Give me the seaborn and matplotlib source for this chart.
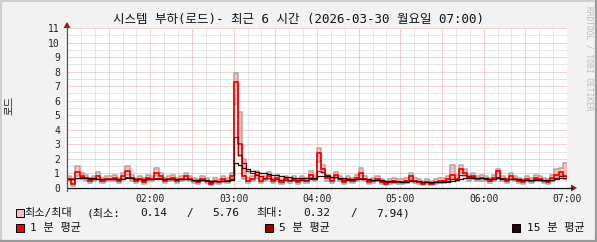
import numpy as np
import pandas as pd
import matplotlib
matplotlib.use("Agg")
import matplotlib.pyplot as plt
import matplotlib.dates as mdates
from matplotlib.patches import Rectangle, Polygon
from matplotlib.lines import Line2D
import seaborn as sns

# ---------------- data (3-minute steps, 01:00 .. 07:00) ----------------
times = pd.date_range("2026-03-30 01:00", "2026-03-30 07:00", freq="3min")

avg_1min = [0.6,0.3,1.1,0.8,0.7,0.5,0.6,0.8,0.5,0.6,0.6,0.7,0.5,0.8,1.2,0.7,0.5,0.6,0.4,0.7,
            0.6,1.0,0.8,0.5,0.6,0.7,0.5,0.6,0.8,0.6,0.5,0.4,0.6,0.5,0.3,0.5,0.4,0.6,0.5,0.8,
            7.3,3.0,0.8,0.5,0.6,0.9,0.5,0.6,0.8,0.5,0.7,0.4,0.6,0.5,0.6,0.4,0.6,0.5,0.9,0.6,
            2.4,1.3,0.7,0.5,0.9,0.6,0.4,0.6,0.5,0.7,1.0,0.6,0.4,0.5,0.6,0.4,0.3,0.4,0.5,0.4,
            0.4,0.5,0.8,0.5,0.4,0.3,0.4,0.3,0.4,0.5,0.5,0.6,0.9,0.6,1.3,1.0,0.7,0.8,0.6,0.7,
            0.6,0.5,0.7,1.2,0.6,0.5,0.8,0.6,0.5,0.4,0.6,0.5,0.7,0.6,0.5,0.4,0.7,0.9,1.1,0.8,
            0.8]

max_1min = [0.8,0.7,1.5,1.0,0.9,0.7,0.8,1.1,0.7,0.8,0.8,0.9,0.7,1.0,1.5,0.9,0.7,0.8,0.7,0.9,
            0.8,1.4,1.0,0.7,0.8,0.9,0.7,0.8,1.0,0.8,0.7,0.6,0.8,0.7,0.5,0.7,0.6,0.8,0.7,1.0,
            7.94,5.2,2.0,0.7,0.8,1.2,0.7,0.8,1.1,0.7,0.9,0.6,0.8,0.7,0.8,0.6,0.8,0.7,1.2,0.8,
            2.75,1.6,0.9,0.7,1.1,0.8,0.6,0.8,0.7,0.9,1.4,0.8,0.6,0.7,0.8,0.6,0.5,0.6,0.7,0.6,
            0.6,0.7,1.0,0.7,0.6,0.5,0.6,0.5,0.6,0.7,0.7,0.8,1.6,0.9,1.6,1.3,0.9,1.0,0.8,0.9,
            0.8,0.7,0.9,1.3,0.8,0.7,1.0,0.8,0.7,0.6,0.8,0.7,0.9,0.8,0.7,0.6,0.9,1.3,1.4,1.7,
            1.7]

min_1min = [0.45,0.14,0.8,0.6,0.5,0.35,0.45,0.6,0.35,0.45,0.45,0.5,0.35,0.6,0.9,0.5,0.35,0.45,0.3,0.5,
            0.45,0.8,0.6,0.35,0.45,0.5,0.35,0.45,0.6,0.45,0.35,0.3,0.45,0.35,0.2,0.35,0.3,0.45,0.35,0.6,
            5.76,2.2,0.6,0.35,0.45,0.7,0.35,0.45,0.6,0.35,0.5,0.3,0.45,0.35,0.45,0.3,0.45,0.35,0.7,0.45,
            1.8,1.0,0.5,0.35,0.7,0.45,0.3,0.45,0.35,0.5,0.8,0.45,0.3,0.35,0.45,0.3,0.2,0.3,0.35,0.3,
            0.3,0.35,0.6,0.35,0.3,0.2,0.3,0.2,0.3,0.35,0.35,0.45,0.7,0.45,1.0,0.8,0.5,0.6,0.45,0.5,
            0.45,0.35,0.5,1.0,0.45,0.35,0.6,0.45,0.35,0.3,0.45,0.35,0.5,0.45,0.35,0.3,0.5,0.7,0.9,0.6,
            0.6]

avg_5min = [0.65,0.6,0.7,0.75,0.7,0.65,0.6,0.65,0.6,0.6,0.6,0.62,0.6,0.65,0.75,0.7,0.62,0.6,0.55,0.6,
            0.62,0.72,0.7,0.62,0.6,0.62,0.58,0.6,0.65,0.6,0.55,0.5,0.52,0.5,0.42,0.45,0.45,0.5,0.52,0.62,
            3.5,2.3,1.7,1.2,1.0,0.9,0.8,0.72,0.72,0.65,0.65,0.58,0.58,0.55,0.55,0.52,0.55,0.55,0.65,0.65,
            1.2,1.1,0.9,0.75,0.75,0.65,0.58,0.58,0.55,0.6,0.72,0.65,0.55,0.52,0.52,0.48,0.42,0.42,0.42,0.4,
            0.4,0.45,0.55,0.5,0.45,0.4,0.38,0.36,0.38,0.42,0.45,0.5,0.65,0.65,0.9,0.9,0.8,0.75,0.7,0.68,
            0.65,0.6,0.62,0.75,0.68,0.6,0.65,0.62,0.58,0.52,0.55,0.55,0.6,0.6,0.55,0.5,0.58,0.68,0.8,0.8,
            0.8]

avg_15min = [0.65,0.65,0.68,0.7,0.7,0.68,0.66,0.65,0.64,0.63,0.62,0.62,0.62,0.63,0.66,0.66,0.64,0.62,0.6,0.6,
             0.6,0.63,0.64,0.63,0.62,0.62,0.6,0.6,0.61,0.6,0.58,0.56,0.55,0.53,0.5,0.49,0.48,0.48,0.5,0.55,
             1.7,1.55,1.4,1.3,1.2,1.12,1.05,1.0,0.95,0.9,0.86,0.82,0.78,0.75,0.72,0.7,0.68,0.68,0.68,0.68,
             0.8,0.82,0.8,0.76,0.74,0.7,0.66,0.64,0.62,0.62,0.64,0.63,0.6,0.58,0.56,0.54,0.5,0.48,0.46,0.45,
             0.44,0.44,0.46,0.46,0.45,0.43,0.42,0.4,0.4,0.41,0.42,0.44,0.5,0.53,0.62,0.68,0.7,0.7,0.69,0.68,
             0.66,0.64,0.63,0.66,0.65,0.63,0.63,0.62,0.6,0.58,0.57,0.57,0.58,0.58,0.57,0.56,0.57,0.6,0.66,0.7,
             0.7]

x_tick_labels = ["02:00", "03:00", "04:00", "05:00", "06:00", "07:00"]

title = "시스템 부하(로드)- 최근 6 시간 (2026-03-30 월요일 07:00)"
y_label = "로드"
side_text = "RRDTOOL / TOBI OETIKER"
legend_minmax = "최소/최대"
legend_stats = ["(최소:", "0.14", "/", "5.76", "최대:", "0.32", "/", "7.94)"]
legend_series = ["1 분 평균", "5 분 평균", "15 분 평균"]

c_band = "#FFBDBD"
c_band_edge = "#A8A8A8"
c_1 = "#FF0000"
c_5 = "#A00000"
c_15 = "#2A0000"

df = pd.DataFrame({"time": times, "avg1": avg_1min, "max1": max_1min, "min1": min_1min,
                   "avg5": avg_5min, "avg15": avg_15min})

# ---------------- figure ----------------
sns.set_style("white")
FONT = ["DejaVu Sans Mono", "Noto Sans CJK KR"]
plt.rcParams["font.family"] = FONT

W, H = 597, 242
fig = plt.figure(figsize=(W / 100, H / 100), dpi=100, facecolor="#F2F2F2")

L, R, T, B = 67, 567, 28, 188
ax = fig.add_axes([L / W, 1 - B / H, (R - L) / W, (B - T) / H])
ax.set_facecolor("white")

t0 = pd.Timestamp("2026-03-30 01:00")
t1 = pd.Timestamp("2026-03-30 07:00")
ax.set_xlim(t0, t1)
ax.set_ylim(0, 11)

# grid
ax.xaxis.set_major_locator(mdates.MinuteLocator(byminute=[0, 30]))
ax.xaxis.set_minor_locator(mdates.MinuteLocator(byminute=[10, 20, 40, 50]))
def fmt(x, pos):
    d = mdates.num2date(x)
    lab = d.strftime("%H:%M")
    return lab if (d.minute == 0 and lab in x_tick_labels) else ""
ax.xaxis.set_major_formatter(plt.FuncFormatter(fmt))
ax.yaxis.set_major_locator(plt.MultipleLocator(1))
ax.yaxis.set_minor_locator(plt.MultipleLocator(0.5))

ax.grid(which="minor", color="#CFCFCF", linewidth=0.72, linestyle=(0, (1, 1)))
ax.grid(which="major", color="#F2A0A0", linewidth=0.72, linestyle=(0, (1, 1)))
ax.set_axisbelow(True)

# min / max band
ax.fill_between(df["time"], df["min1"], df["max1"], step="post", color=c_band, linewidth=0, zorder=2)
sns.lineplot(data=df, x="time", y="max1", ax=ax, color=c_band_edge, linewidth=1.1, drawstyle="steps-post", zorder=3)
sns.lineplot(data=df, x="time", y="min1", ax=ax, color=c_band_edge, linewidth=1.1, drawstyle="steps-post", zorder=3)
sns.lineplot(data=df, x="time", y="avg1", ax=ax, color=c_1, linewidth=1.3, drawstyle="steps-post", zorder=4)
sns.lineplot(data=df, x="time", y="avg5", ax=ax, color=c_5, linewidth=0.9, drawstyle="steps-post", zorder=5)
sns.lineplot(data=df, x="time", y="avg15", ax=ax, color=c_15, linewidth=0.9, drawstyle="steps-post", zorder=6)

ax.set_xlabel("")
ax.set_ylabel("")
for s in ax.spines.values():
    s.set_visible(False)

ax.tick_params(axis="both", which="major", length=2, width=0.7, color="#444444",
               labelsize=7, labelcolor="#222222")
ax.tick_params(axis="x", which="major", pad=2.5)
ax.tick_params(axis="y", which="major", pad=3)
ax.tick_params(axis="both", which="minor", length=0)
for lab in ax.get_xticklabels() + ax.get_yticklabels():
    lab.set_family(FONT)

# axis lines with arrows (figure pixel coords)
def px(x, y):
    return (x / W, 1 - y / H)
fig.add_artist(Line2D([px(L, 0)[0], px(572, 0)[0]], [px(0, B)[1]] * 2, color="#111111", linewidth=0.9))
fig.add_artist(Line2D([px(L, 0)[0]] * 2, [px(0, B + 3)[1], px(0, 26)[1]], color="#555555", linewidth=0.9))
fig.add_artist(Polygon([px(571, B - 3.5), px(577, B), px(571, B + 3.5)], closed=True,
                       facecolor="#8B1A1A", edgecolor="none"))
fig.add_artist(Polygon([px(L - 3.5, 28), px(L, 22), px(L + 3.5, 28)], closed=True,
                       facecolor="#8B1A1A", edgecolor="none"))

# title and labels
fig.text(0.5, 1 - 19 / H, title, ha="center", va="center", fontsize=9, color="#111111", family=FONT)
fig.text(10 / W, 1 - 105 / H, y_label, ha="center", va="center", rotation=90, fontsize=7.5,
         color="#222222", family=FONT)
fig.text(589 / W, 1 - 58 / H, side_text, ha="center", va="center", rotation=270, fontsize=5.7,
         color="#BBBBBB", family=FONT)

# legend
def square(x, y, color):
    fig.add_artist(Rectangle(px(x, y + 4), 8 / W, 8 / H, facecolor=color, edgecolor="black",
                             linewidth=0.7))

y1, y2 = 213, 228
square(16, y1, c_band)
fig.text(24 / W, 1 - y1 / H, legend_minmax, ha="left", va="center", fontsize=8, family=FONT, color="#111111")
stat_x = [87, 140, 186, 212, 256, 303, 350, 376]
for xx, s in zip(stat_x, legend_stats):
    fig.text(xx / W, 1 - y1 / H, s, ha="left", va="center", fontsize=8, family=FONT, color="#111111")

square(16, y2, c_1)
fig.text(30 / W, 1 - y2 / H, legend_series[0], ha="left", va="center", fontsize=8, family=FONT, color="#111111")
square(265, y2, c_5)
fig.text(279 / W, 1 - y2 / H, legend_series[1], ha="left", va="center", fontsize=8, family=FONT, color="#111111")
square(512, y2, c_15)
fig.text(527 / W, 1 - y2 / H, legend_series[2], ha="left", va="center", fontsize=8, family=FONT, color="#111111")

# 3D-ish frame
fig.add_artist(Line2D([0, 1], [1 - 0.5 / H] * 2, color="#CFCFCF", linewidth=1.5))
fig.add_artist(Line2D([0.5 / W] * 2, [0, 1], color="#CFCFCF", linewidth=1.5))
fig.add_artist(Line2D([0, 1], [0.8 / H] * 2, color="#9A9A9A", linewidth=1.6))
fig.add_artist(Line2D([1 - 0.8 / W] * 2, [0, 1], color="#9A9A9A", linewidth=1.6))

fig.savefig("out.png", dpi=100, facecolor=fig.get_facecolor())
